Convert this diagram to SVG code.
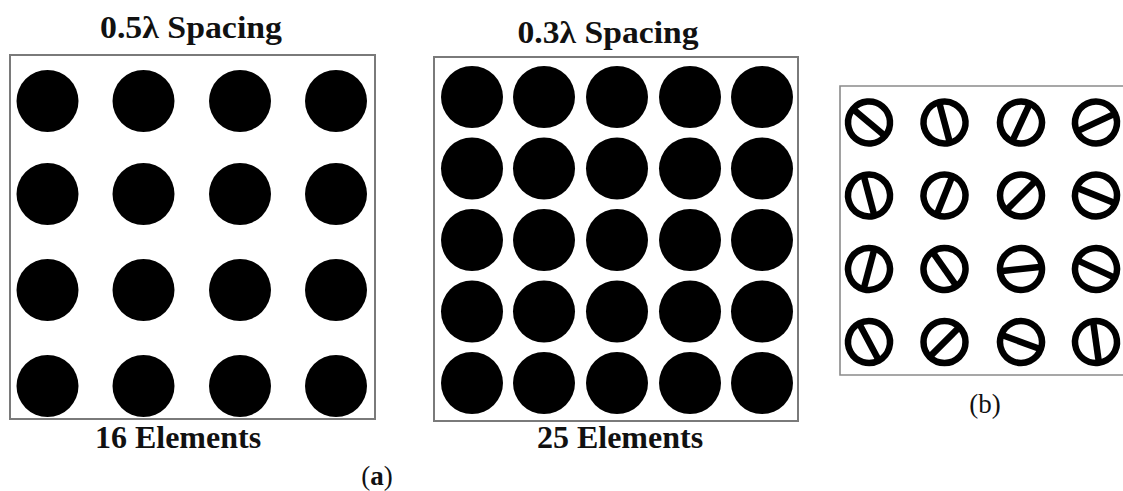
<svg xmlns="http://www.w3.org/2000/svg" width="1123" height="491" viewBox="0 0 1123 491">
<style>
.frame{fill:none;stroke:#7a7a7a;stroke-width:2}
.el{fill:#000}
.ring{fill:none;stroke:#000;stroke-width:6.5}
.bar{stroke:#000;stroke-width:6.5}
.title{font-family:'Liberation Serif','Times New Roman',Tinos,'DejaVu Serif',serif;font-weight:700;font-size:32px;fill:#111;text-anchor:middle}
.cap{font-family:'Liberation Serif','Times New Roman','DejaVu Serif',serif;font-size:27px;fill:#111;text-anchor:middle}
</style>
<defs>
<g id="pol"><circle class="ring" r="21"/><line class="bar" x1="0" y1="-21" x2="0" y2="21"/></g>
</defs>
<rect width="1123" height="491" fill="#fff"/>

<g id="panel-a1">
<text class="title" x="191" y="38" textLength="182" lengthAdjust="spacingAndGlyphs">0.5λ Spacing</text>
<rect class="frame" x="10" y="55" width="365" height="364"/>
<g class="el">
<circle cx="47.5" cy="101" r="31"/><circle cx="143.5" cy="101" r="31"/><circle cx="240" cy="101" r="31"/><circle cx="336" cy="101" r="31"/>
<circle cx="47.5" cy="194" r="31"/><circle cx="143.5" cy="194" r="31"/><circle cx="240" cy="194" r="31"/><circle cx="336" cy="194" r="31"/>
<circle cx="47.5" cy="290" r="31"/><circle cx="143.5" cy="290" r="31"/><circle cx="240" cy="290" r="31"/><circle cx="336" cy="290" r="31"/>
<circle cx="47.5" cy="386" r="31"/><circle cx="143.5" cy="386" r="31"/><circle cx="240" cy="386" r="31"/><circle cx="336" cy="386" r="31"/>
</g>
<text class="title" x="178" y="448">16 Elements</text>
</g>

<g id="panel-a2">
<text class="title" x="608" y="43" textLength="181" lengthAdjust="spacingAndGlyphs">0.3λ Spacing</text>
<rect class="frame" x="434" y="57" width="364" height="364"/>
<g class="el">
<circle cx="472" cy="97" r="31"/><circle cx="544" cy="97" r="31"/><circle cx="617" cy="97" r="31"/><circle cx="690" cy="97" r="31"/><circle cx="762" cy="97" r="31"/>
<circle cx="472" cy="168.5" r="31"/><circle cx="544" cy="168.5" r="31"/><circle cx="617" cy="168.5" r="31"/><circle cx="690" cy="168.5" r="31"/><circle cx="762" cy="168.5" r="31"/>
<circle cx="472" cy="240" r="31"/><circle cx="544" cy="240" r="31"/><circle cx="617" cy="240" r="31"/><circle cx="690" cy="240" r="31"/><circle cx="762" cy="240" r="31"/>
<circle cx="472" cy="311.5" r="31"/><circle cx="544" cy="311.5" r="31"/><circle cx="617" cy="311.5" r="31"/><circle cx="690" cy="311.5" r="31"/><circle cx="762" cy="311.5" r="31"/>
<circle cx="472" cy="383" r="31"/><circle cx="544" cy="383" r="31"/><circle cx="617" cy="383" r="31"/><circle cx="690" cy="383" r="31"/><circle cx="762" cy="383" r="31"/>
</g>
<text class="title" x="620" y="448">25 Elements</text>
</g>

<text id="label-a" class="cap" x="377" y="485">(<tspan font-weight="bold">a</tspan>)</text>

<g id="panel-b">
<path d="M1123 86 H840 V375 H1123" fill="none" stroke="#8a8a8a" stroke-width="1.6"/>
<use href="#pol" transform="translate(869 122.5) rotate(-50)"/>
<use href="#pol" transform="translate(944.5 122.5) rotate(-15)"/>
<use href="#pol" transform="translate(1021 122.5) rotate(25)"/>
<use href="#pol" transform="translate(1096 122.5) rotate(65)"/>
<use href="#pol" transform="translate(869 195.5) rotate(-15)"/>
<use href="#pol" transform="translate(944.5 195.5) rotate(22)"/>
<use href="#pol" transform="translate(1021 195.5) rotate(45)"/>
<use href="#pol" transform="translate(1096 195.5) rotate(-68)"/>
<use href="#pol" transform="translate(869 269) rotate(15)"/>
<use href="#pol" transform="translate(944.5 269) rotate(-35)"/>
<use href="#pol" transform="translate(1021 269) rotate(84)"/>
<use href="#pol" transform="translate(1096 269) rotate(-65)"/>
<use href="#pol" transform="translate(869 342) rotate(-28)"/>
<use href="#pol" transform="translate(944.5 342) rotate(45)"/>
<use href="#pol" transform="translate(1021 342) rotate(-70)"/>
<use href="#pol" transform="translate(1096 342) rotate(-8)"/>
</g>
<text id="label-b" class="cap" x="985" y="413">(b)</text>
</svg>
